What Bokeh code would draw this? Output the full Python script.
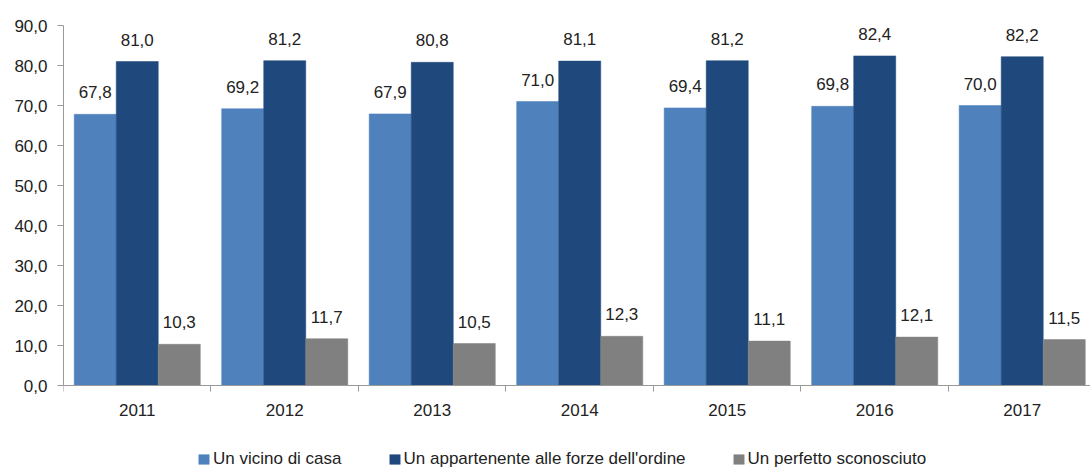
from bokeh.plotting import figure
from bokeh.models import ColumnDataSource, Range1d, FixedTicker, Legend, LegendItem, LabelSet
from bokeh.core.properties import value
from bokeh.embed import file_html
from bokeh.resources import INLINE

years = ["2011", "2012", "2013", "2014", "2015", "2016", "2017"]
vicino = [67.8, 69.2, 67.9, 71.0, 69.4, 69.8, 70.0]
forze = [81.0, 81.2, 80.8, 81.1, 81.2, 82.4, 82.2]
sconosciuto = [10.3, 11.7, 10.5, 12.3, 11.1, 12.1, 11.5]
series_names = ["Un vicino di casa", "Un appartenente alle forze dell'ordine", "Un perfetto sconosciuto"]
colors = ["#4F81BD", "#1F497D", "#808080"]
y_ticks = [0, 10, 20, 30, 40, 50, 60, 70, 80, 90]

def fmt(v):
    return ("%.1f" % v).replace(".", ",")

# frame runs to the canvas bottom; the x axis sits at y = 0 inside it
p = figure(frame_width=1027, frame_height=444, output_backend="svg", toolbar_location=None,
           x_range=Range1d(0.5, 7.463), y_range=Range1d(-21, 90),
           min_border_left=63, min_border_right=0, min_border_top=25, min_border_bottom=0)
p.outline_line_color = None
p.grid.visible = False
p.background_fill_color = "white"

pos = list(range(1, len(years) + 1))
bw = 0.285
offsets = [-0.285, 0.0, 0.285]
items = []
for vals, name, col, off in zip([vicino, forze, sconosciuto], series_names, colors, offsets):
    src = ColumnDataSource(dict(x=[x + off for x in pos], top=vals, lab=[fmt(v) for v in vals]))
    r = p.vbar(x="x", top="top", width=bw, source=src, fill_color=col, line_color=col, line_width=0.5)
    items.append(LegendItem(label=name, renderers=[r]))
    labels = LabelSet(x="x", y="top", text="lab", source=src, text_align="center",
                      text_baseline="bottom", y_offset=16, text_font_size="17px",
                      text_font=value("Liberation Sans"), text_color="#222222")
    p.add_layout(labels)

p.yaxis.ticker = FixedTicker(ticks=y_ticks)
p.yaxis.bounds = (0, 90)
p.yaxis.major_label_overrides = {t: fmt(t) for t in y_ticks}
p.yaxis.minor_tick_line_color = None
p.yaxis.major_tick_in = 0
p.yaxis.major_tick_out = 6
p.yaxis.axis_line_color = "#999999"
p.yaxis.major_tick_line_color = "#999999"
p.yaxis.major_label_text_font = "Liberation Sans"
p.yaxis.major_label_text_font_size = "17px"
p.yaxis.major_label_text_color = "#222222"
p.yaxis.major_label_standoff = 10

p.xaxis.fixed_location = 0
p.xaxis.ticker = FixedTicker(ticks=pos, minor_ticks=[x + 0.5 for x in range(0, 8)])
p.xaxis.major_label_overrides = {x: y for x, y in zip(pos, years)}
p.xaxis.major_tick_in = 0
p.xaxis.major_tick_out = 0
p.xaxis.minor_tick_in = 0
p.xaxis.minor_tick_out = 6
p.xaxis.axis_line_color = "#999999"
p.xaxis.minor_tick_line_color = "#999999"
p.xaxis.major_label_text_font = "Liberation Sans"
p.xaxis.major_label_text_font_size = "17px"
p.xaxis.major_label_text_color = "#222222"
p.xaxis.major_label_standoff = 12

legend = Legend(items=items, orientation="horizontal", location=(134, 0),
                label_text_font="Liberation Sans", label_text_font_size="17px",
                label_text_color="#222222", glyph_width=13, glyph_height=12,
                label_standoff=3, spacing=46, border_line_color=None,
                margin=0, padding=0, background_fill_alpha=0)
p.add_layout(legend)

open("out.html", "w").write(file_html(p, INLINE))
